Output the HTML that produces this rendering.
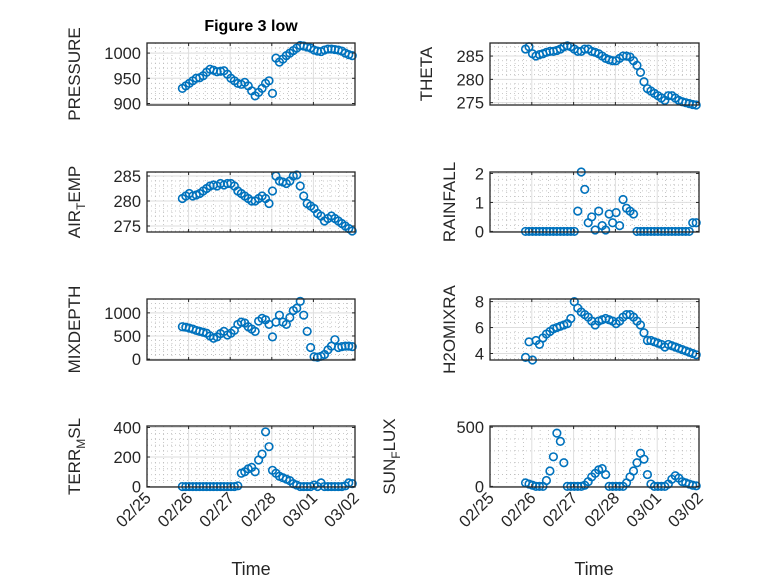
<!DOCTYPE html>
<html><head><meta charset="utf-8"><style>
html,body{margin:0;padding:0;background:#fff}
svg{display:block;font-family:"Liberation Sans","DejaVu Sans",sans-serif}
</style></head><body>
<svg id="fig" width="778" height="583" viewBox="0 0 778 583" xmlns="http://www.w3.org/2000/svg">
<rect width="778" height="583" fill="#fff"/>
<text x="251" y="31" text-anchor="middle" font-size="16" font-weight="bold" fill="#000">Figure 3 low</text>
<text x="251" y="575" text-anchor="middle" font-size="18" fill="#262626">Time</text>
<text x="594" y="575" text-anchor="middle" font-size="18" fill="#262626">Time</text>
</svg>
<script>
const tStart = 0.85, tStep = 1/12;
const xTickLabels = ["02/25","02/26","02/27","02/28","03/01","03/02"];
const pressure = [930,935,940,945,950,951,955,962,968,966,963,964,965,958,950,945,940,938,942,935,925,915,922,930,940,945,920,990,982,988,995,1000,1005,1010,1015,1014,1012,1010,1006,1004,1003,1006,1008,1008,1007,1006,1004,1000,997,995];
const theta = [286.5,287,285.5,285,285.3,285.5,285.8,286,286,286.2,286.5,287,287.2,287,286.5,286,286,286.5,286.5,286,285.8,285.5,285,284.5,284.2,284,284,284.5,285,285,284.8,284,283,281.5,279.5,278,277.5,277,276.5,276,275.5,276.5,276.5,276,275.5,275.2,275,274.8,274.6,274.5];
const airTemp = [280.5,281,281.5,281,281.2,281.5,282,282.5,283,283.2,283,283.5,283.2,283.5,283.5,283,282,281.5,281,280.5,280,280,280.5,281,280.5,279.5,282,285,284,283.8,283.5,284,285,285.2,283,281,279.5,279,278.5,277.5,277,276,276.5,277,276.5,276,275.5,275,274.5,274];
const rainfall = [0,0,0,0,0,0,0,0,0,0,0,0,0,0,0,0.7,2.05,1.45,0.3,0.5,0.05,0.7,0.2,0.05,0.6,0.3,0.65,0.2,1.1,0.8,0.7,0.6,0,0,0,0,0,0,0,0,0,0,0,0,0,0,0,0,0.3,0.3];
const mixDepth = [700,690,670,650,620,600,580,560,500,450,480,550,600,520,560,620,750,800,780,700,650,600,820,880,850,750,480,800,950,800,750,900,1050,1100,1250,950,600,250,50,40,60,100,200,280,420,250,270,280,280,270];
const h2oMix = [3.7,4.9,3.5,5.0,4.7,5.2,5.5,5.7,5.9,6.0,6.1,6.2,6.3,6.7,8.0,7.5,7.2,7.0,6.8,6.5,6.2,6.5,6.6,6.7,6.6,6.5,6.3,6.5,6.8,7.0,7.0,6.8,6.5,6.2,5.6,5.0,5.0,4.9,4.8,4.7,4.5,4.7,4.6,4.5,4.4,4.3,4.2,4.1,4.0,3.9];
const terrMsl = [0,0,0,0,0,0,0,0,0,0,0,0,0,0,0,0,5,90,100,120,130,100,180,220,370,270,110,90,70,60,50,40,20,10,0,0,0,0,10,0,25,0,0,0,0,0,0,5,25,20];
const sunFlux = [30,20,10,0,0,0,50,130,250,450,380,200,0,0,0,0,0,10,40,80,110,140,150,100,0,0,0,0,0,30,80,130,200,280,230,100,20,0,0,0,0,20,60,90,70,40,30,20,10,5];
const yTicksPressure=[900,950,1000], yTicksTheta=[275,280,285], yTicksAir=[275,280,285], yTicksRain=[0,1,2], yTicksMix=[0,500,1000], yTicksH2o=[4,6,8], yTicksTerr=[0,200,400], yTicksSun=[0,500];

const NS="http://www.w3.org/2000/svg";
const svg=document.getElementById('fig');
function mk(tag,attrs,parent){const e=document.createElementNS(NS,tag);for(const k in attrs)e.setAttribute(k,attrs[k]);(parent||svg).appendChild(e);return e;}
const L={x:147,w:208}, R={x:490,w:209};
const rows=[[43,105],[172,232],[299,360],[426,487]];
const panels=[
 {key:'pressure',col:L,row:0,data:pressure,ticks:yTicksPressure,lo:897,hi:1020,lab:['PRESSURE'],lx:80},
 {key:'theta',col:R,row:0,data:theta,ticks:yTicksTheta,lo:274.5,hi:287.8,lab:['THETA'],lx:432},
 {key:'air-temp',col:L,row:1,data:airTemp,ticks:yTicksAir,lo:273.8,hi:285.8,lab:['AIR','T','EMP'],lx:80},
 {key:'rainfall',col:R,row:1,data:rainfall,ticks:yTicksRain,lo:-0.02,hi:2.05,lab:['RAINFALL'],lx:455},
 {key:'mixdepth',col:L,row:2,data:mixDepth,ticks:yTicksMix,lo:-20,hi:1300,lab:['MIXDEPTH'],lx:80},
 {key:'h2omixra',col:R,row:2,data:h2oMix,ticks:yTicksH2o,lo:3.5,hi:8.2,lab:['H2OMIXRA'],lx:455},
 {key:'terr-msl',col:L,row:3,data:terrMsl,ticks:yTicksTerr,lo:-3,hi:410,lab:['TERR','M','SL'],lx:80},
 {key:'sun-flux',col:R,row:3,data:sunFlux,ticks:yTicksSun,lo:-5,hi:510,lab:['SUN','F','LUX'],lx:395},
];
panels.forEach(p=>{
 const x0=p.col.x,w=p.col.w,y0=rows[p.row][0],y1=rows[p.row][1],h=y1-y0;
 const xs=d=>x0+d/5*w, ys=v=>y1-(v-p.lo)/(p.hi-p.lo)*h;
 const g=mk('g',{});
 
 
 mk('rect',{x:x0,y:y0,width:w,height:h,fill:'#fff'},g);
 for(let d=0;d<5;d+=0.2){ if(Math.abs(d-Math.round(d))<1e-6) continue; mk('line',{x1:xs(d),x2:xs(d),y1:y0,y2:y1,stroke:'#b8b8b8','stroke-width':0.8,'stroke-dasharray':'1 3'},g);}
 const step=p.ticks.length>1?(p.ticks[1]-p.ticks[0]):500;
 for(let v=p.ticks[0]-step;v<=p.hi;v+=step/5){ if(v<p.lo) continue; mk('line',{x1:x0,x2:x0+w,y1:ys(v),y2:ys(v),stroke:'#b8b8b8','stroke-width':0.8,'stroke-dasharray':'1 3'},g);}
 for(let d=1;d<5;d++) mk('line',{x1:xs(d),x2:xs(d),y1:y0,y2:y1,stroke:'#dedede','stroke-width':1},g);
 p.ticks.forEach(v=>mk('line',{x1:x0,x2:x0+w,y1:ys(v),y2:ys(v),stroke:'#dedede','stroke-width':1},g));
 p.data.forEach((v,i)=>{
  const c=mk('circle',{cx:xs(tStart+i*tStep),cy:ys(v),r:3.8,fill:'none',stroke:'#0072BD','stroke-width':1.6},g);
  
  
 });
 mk('rect',{x:x0,y:y0,width:w,height:h,fill:'none',stroke:'#262626','stroke-width':1.3},g);
 for(let d=0;d<=5;d++){mk('line',{x1:xs(d),x2:xs(d),y1:y1,y2:y1-3,stroke:'#262626'},g);mk('line',{x1:xs(d),x2:xs(d),y1:y0,y2:y0+3,stroke:'#262626'},g);}
 p.ticks.forEach(v=>{
  mk('line',{x1:x0,x2:x0+3,y1:ys(v),y2:ys(v),stroke:'#262626'},g);
  mk('line',{x1:x0+w,x2:x0+w-3,y1:ys(v),y2:ys(v),stroke:'#262626'},g);
  const t=mk('text',{x:x0-6,y:ys(v)+6,'text-anchor':'end','font-size':16.5,fill:'#262626'},g);
  t.textContent=String(v);
  
  
 });
 const yc=(y0+y1)/2;
 const lt=mk('text',{x:p.lx,y:yc,'text-anchor':'middle','font-size':17,fill:'#262626',transform:`rotate(-90 ${p.lx} ${yc})`},g);
 
 
 if(p.lab.length===1){lt.textContent=p.lab[0];}
 else{
  const a=mk('tspan',{},lt);a.textContent=p.lab[0];
  const b=mk('tspan',{'font-size':12,dy:5},lt);b.textContent=p.lab[1];
  const c=mk('tspan',{dy:-5},lt);c.textContent=p.lab[2];
 }
 if(p.row===3){
  xTickLabels.forEach((s,d)=>{
   const tx=xs(d)+5, ty=y1+12;
   const t=mk('text',{x:tx,y:ty,'text-anchor':'end','font-size':16.5,fill:'#262626',transform:`rotate(-45 ${tx} ${ty})`});
   t.textContent=s;
   
   
  });
 }
});
</script>
</body></html>
